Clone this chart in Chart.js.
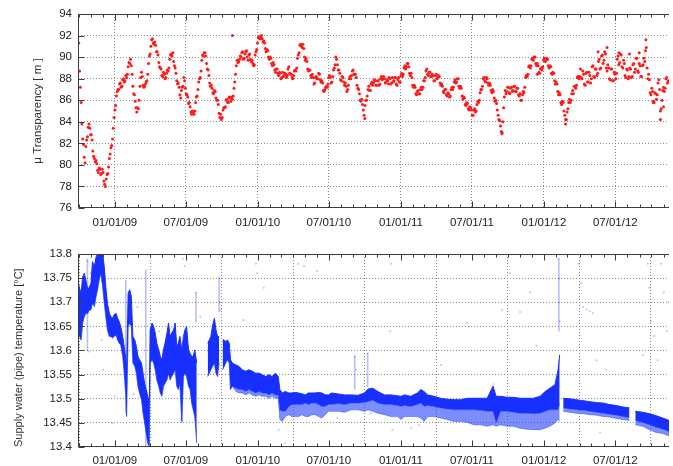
<!DOCTYPE html>
<html>
<head>
<meta charset="utf-8">
<script src="https://cdn.jsdelivr.net/npm/chart.js@4.4.1/dist/chart.umd.min.js"></script>
<style>
  html, body { margin: 0; padding: 0; background: #fff; }
  #wrap { position: relative; width: 673px; height: 466px; overflow: hidden; background: #fff; }
  .panel { position: absolute; left: 0; width: 673px; }
</style>
</head>
<body>
<div id="wrap">
  <div class="panel" style="top:0;height:232px"><canvas id="transChart"></canvas></div>
  <div class="panel" style="top:232px;height:234px"><canvas id="tempChart"></canvas></div>
</div>
<script>
(function () {
    'use strict';

    // ── DATA ───────────────────────────────────────────────────────────────
    // x values are days counted from 10/01/08
    const tickLabels = ['01/01/09', '07/01/09', '01/01/10', '07/01/10', '01/01/11', '07/01/11', '01/01/12', '07/01/12'];

    // µ transparency [m]: readings every 4 days from 10/01/08 (A) and from 10/03/08 (B)
    const TRANS_STEP = 4;
    const transparencyA = [
        91.3, 87.2, 83.8, 81.9, 80.2, 82.3, 83.5, 83.4, 82.8, 81.3,
        80.6, 80.4, 79.5, 79.7, 79.1, 79.6, 78.5, 78.0, 79.1, 79.8,
        81.0, 81.8, 83.4, 85.1, 86.4, 87.0, 87.5, 87.2, 87.9, 87.7,
        88.3, 88.4, 89.5, 89.8, 88.4, 86.6, 85.9, 84.9, 85.2, 87.3,
        88.6, 87.4, 87.3, 87.7, 88.4, 90.1, 91.0, 91.7, 91.2, 91.1,
        90.5, 89.5, 89.0, 88.3, 88.6, 88.0, 88.5, 88.7, 89.8, 90.3,
        90.4, 89.2, 88.5, 87.5, 87.2, 86.2, 87.2, 88.1, 87.1, 86.5,
        85.7, 85.4, 84.7, 84.9, 85.0, 86.3, 87.0, 88.0, 88.7, 90.2,
        90.4, 90.1, 88.9, 88.3, 87.3, 87.1, 86.6, 86.8, 86.0, 85.6,
        84.4, 84.2, 85.1, 85.3, 86.0, 85.8, 86.3, 85.9, 86.1, 87.1,
        88.4, 89.7, 89.6, 90.1, 90.4, 89.8, 90.3, 90.6, 89.7, 90.3,
        89.6, 89.4, 89.3, 90.5, 91.3, 91.9, 91.9, 91.7, 91.5, 90.8,
        90.7, 90.0, 90.0, 89.4, 89.5, 88.8, 88.9, 88.5, 88.6, 88.0,
        88.6, 88.3, 88.4, 88.3, 89.1, 88.4, 88.1, 88.3, 88.8, 89.0,
        90.2, 91.1, 91.0, 91.2, 90.0, 89.9, 88.9, 88.8, 88.3, 88.4,
        87.5, 88.1, 88.0, 88.5, 87.9, 87.8, 86.9, 87.0, 87.3, 87.5,
        88.3, 87.6, 88.2, 89.0, 90.0, 89.3, 88.8, 87.9, 88.2, 87.7,
        87.6, 86.8, 87.4, 88.2, 88.3, 88.8, 88.4, 88.1, 87.1, 86.6,
        85.9, 85.6, 84.6, 86.0, 86.4, 87.3, 86.9, 87.7, 87.6, 87.8,
        87.4, 87.8, 87.5, 88.2, 88.0, 88.0, 87.7, 87.8, 88.1, 87.5,
        88.1, 87.8, 88.1, 87.4, 88.1, 87.7, 88.5, 88.4, 89.2, 89.1,
        89.4, 88.5, 88.5, 87.4, 87.4, 86.6, 86.8, 86.6, 87.0, 87.0,
        87.8, 88.1, 88.9, 88.3, 88.6, 88.2, 88.3, 87.8, 88.4, 88.1,
        88.2, 87.4, 87.3, 86.7, 87.0, 86.4, 86.6, 86.4, 87.2, 87.2,
        87.9, 87.7, 88.0, 87.1, 87.1, 86.1, 86.2, 85.5, 85.7, 85.1,
        85.3, 84.6, 85.1, 84.9, 85.6, 85.8, 86.7, 87.0, 88.0, 87.8,
        88.1, 87.6, 87.6, 86.9, 87.0, 86.2, 86.0, 85.1, 84.2, 83.6,
        83.0, 85.3, 86.9, 86.8, 87.2, 86.6, 87.2, 86.9, 87.3, 86.8,
        87.1, 86.4, 86.0, 86.5, 86.7, 88.1, 88.2, 89.1, 89.0, 89.8,
        89.7, 90.0, 89.2, 89.2, 88.5, 89.0, 89.1, 89.9, 89.7, 89.8,
        89.0, 89.1, 88.4, 88.5, 87.5, 87.5, 86.5, 86.5, 85.6, 85.8,
        84.6, 84.2, 85.2, 86.1, 86.0, 86.9, 87.3, 87.1, 88.1, 88.0,
        88.9, 88.0, 88.4, 87.4, 88.6, 87.7, 88.3, 88.0, 89.2, 88.1,
        88.9, 88.5, 89.8, 89.0, 90.2, 89.7, 90.3, 88.7, 89.0, 87.9,
        88.9, 87.8, 88.4, 88.5, 90.1, 89.5, 90.2, 89.0, 89.4, 88.1,
        88.8, 88.2, 88.9, 88.2, 89.4, 88.9, 89.9, 88.6, 89.2, 88.2,
        89.3, 89.6, 90.9, 88.0, 87.9, 86.5, 86.8, 85.8, 86.6, 86.5,
        87.9, 85.0, 86.0, 87.2, 87.1, 88.1, 87.8
    ];
    const transparencyB = [
        88.7, 85.8, 82.4, 80.7, 81.7, 82.6, 83.8, 82.8, 82.3, 80.8,
        80.3, 80.1, 79.3, 79.6, 79.2, 79.3, 78.2, 78.7, 79.2, 80.6,
        81.6, 82.4, 84.4, 85.5, 86.8, 87.0, 87.6, 87.3, 88.0, 87.8,
        88.1, 89.1, 89.4, 89.2, 87.3, 86.5, 85.3, 85.3, 86.0, 88.1,
        88.2, 87.2, 87.5, 87.8, 89.4, 90.3, 91.6, 91.3, 91.4, 90.5,
        90.2, 89.1, 88.9, 88.2, 88.4, 88.1, 88.8, 89.0, 90.2, 90.1,
        89.6, 89.0, 87.8, 87.6, 86.5, 86.9, 87.3, 87.8, 86.6, 86.3,
        85.8, 84.9, 85.0, 84.7, 85.8, 86.4, 87.7, 88.1, 89.7, 90.1,
        90.4, 89.4, 88.8, 87.6, 87.4, 86.7, 86.9, 86.2, 86.0, 84.8,
        84.7, 84.4, 85.3, 85.4, 86.1, 85.8, 86.2, 86.3, 86.4, 87.7,
        89.2, 89.5, 89.8, 90.0, 90.5, 89.9, 90.5, 90.0, 90.2, 89.8,
        89.7, 89.2, 90.2, 90.7, 91.8, 91.7, 92.0, 91.4, 91.3, 90.5,
        90.6, 89.8, 89.9, 89.2, 89.3, 88.6, 88.9, 88.3, 88.5, 88.1,
        88.2, 88.5, 88.1, 88.9, 88.5, 88.4, 88.0, 88.7, 88.7, 89.9,
        90.4, 91.2, 90.9, 90.8, 89.7, 89.6, 88.7, 88.8, 88.1, 88.1,
        87.6, 88.2, 88.0, 88.4, 87.7, 87.6, 86.8, 87.2, 87.2, 88.1,
        88.1, 87.7, 88.8, 89.3, 89.8, 88.8, 88.5, 87.8, 88.1, 87.4,
        87.3, 87.0, 88.0, 88.0, 88.7, 88.4, 88.4, 87.4, 87.0, 86.0,
        86.1, 85.1, 85.5, 86.0, 87.0, 86.9, 87.5, 87.4, 87.9, 87.4,
        87.8, 87.4, 88.0, 87.9, 88.2, 87.6, 87.9, 87.5, 88.0, 87.6,
        87.7, 88.1, 87.5, 87.9, 87.7, 88.3, 88.2, 89.0, 88.9, 89.4,
        89.1, 88.3, 88.1, 87.2, 87.2, 86.5, 86.9, 86.6, 87.2, 87.2,
        87.8, 88.7, 88.4, 88.6, 88.2, 88.4, 87.8, 88.3, 88.0, 88.3,
        87.6, 87.5, 86.8, 87.0, 86.5, 86.7, 86.3, 87.0, 87.0, 87.7,
        87.6, 88.0, 87.3, 87.3, 86.4, 86.3, 85.6, 85.8, 85.2, 85.4,
        85.1, 84.6, 85.2, 85.0, 85.9, 86.0, 87.0, 87.3, 88.1, 87.7,
        88.0, 87.4, 87.4, 86.7, 86.8, 85.9, 85.7, 84.6, 84.1, 83.1,
        84.0, 86.3, 86.6, 87.2, 86.7, 87.1, 86.8, 87.3, 86.8, 87.1,
        86.5, 86.6, 86.0, 86.8, 87.2, 88.3, 88.4, 89.2, 89.2, 89.9,
        90.0, 89.4, 89.4, 88.6, 88.9, 88.8, 89.7, 89.6, 89.9, 89.2,
        89.2, 88.5, 88.6, 87.8, 87.7, 86.8, 86.7, 85.8, 85.9, 85.0,
        84.2, 84.9, 85.8, 85.8, 86.6, 86.6, 87.3, 87.4, 88.2, 88.2,
        88.1, 88.7, 87.5, 88.5, 87.7, 88.6, 87.6, 89.1, 88.2, 88.9,
        88.3, 89.6, 88.9, 90.1, 89.4, 90.5, 89.0, 89.3, 88.0, 88.9,
        87.8, 88.6, 88.0, 89.8, 89.3, 90.3, 89.1, 89.7, 88.3, 88.9,
        88.0, 89.0, 88.1, 89.3, 88.6, 89.9, 88.7, 89.4, 88.2, 89.2,
        89.9, 90.6, 89.0, 88.4, 86.7, 87.1, 85.9, 86.7, 86.1, 87.6,
        87.0, 85.2, 86.9, 86.8, 88.0, 87.6
    ];
    // isolated transparency readings
    const transExtraDay = [392, 1447, 1348, 1378, 1430, 1484, 1080, 1242, 1466, 1492, 730, 1170, 1325, 1405];
    const transExtraVal = [92.0, 91.6, 90.9, 90.4, 90.4, 84.2, 82.9, 83.8, 85.8, 85.4, 84.3, 88.4, 90.5, 90.3];

    // supply water temperature [°C]: dense band (upper / lower edge) and its lighter lower fringe
    const tempDay = [
        -3, 2, 6, 10, 14, 18, 23, 27, 31, 35, 40, 44, 48, 52, 56, 61, 65, 69, 73, 78,
        82, 86, 90, 95, 99, 103, 107, 112, 116, 120, 122, 126, 130, 134, 138, 143, 147, 151, 155, 160,
        164, 168, 172, 176, 180, 182, 187, 191, 195, 199, 204, 208, 212, 216, 220, 225, 229, 233, 237, 242,
        246, 250, 254, 258, 263, 267, 271, 275, 280, 284, 288, 292, 296, 301, 304, 329, 333, 337, 341, 346,
        350, 354, 358, 363, 367, 371, 375, 379, 384, 387, 392, 401, 409, 417, 426, 434, 443, 451, 460, 468,
        477, 485, 493, 502, 509, 513, 519, 527, 536, 544, 553, 561, 570, 578, 586, 595, 603, 612, 620, 629,
        637, 645, 662, 678, 695, 712, 729, 738, 750, 763, 780, 797, 814, 822, 831, 847, 864, 873, 881, 890,
        907, 923, 940, 957, 974, 991, 1008, 1025, 1042, 1057, 1065, 1076, 1093, 1109, 1126, 1143, 1160, 1177, 1190, 1202,
        1215, 1223, 1227, 1230, 1236, 1253, 1270, 1287, 1304, 1321, 1338, 1354, 1372, 1388, 1405, 1412, 1420, 1439, 1456, 1473,
        1490, 1506
    ];
    const tempHigh = [
        13.746, 13.729, 13.719, 13.753, 13.760, 13.746, 13.726, 13.732, 13.739, 13.784,
        13.774, 13.794, 13.800, 13.800, 13.800, 13.800, 13.774, 13.732, 13.698, 13.677,
        13.670, 13.667, 13.674, 13.677, 13.667, 13.660, 13.650, 13.629, 13.608, 13.581,
        13.560, 13.719, 13.726, 13.712, 13.629, 13.622, 13.608, 13.588, 13.581, 13.574,
        13.553, 13.532, 13.519, 13.505, 13.491, 13.643, 13.657, 13.650, 13.636, 13.615,
        13.601, 13.588, 13.581, 13.601, 13.615, 13.636, 13.657, 13.629, 13.636, 13.643,
        13.657, 13.608, 13.615, 13.629, 13.601, 13.629, 13.643, 13.650, 13.601, 13.594,
        13.588, 13.588, 13.601, 13.574, null, 13.615, 13.622, 13.629, 13.650, 13.667,
        13.643, 13.629, 13.629, null, 13.622, 13.622, 13.618, 13.622, 13.615, 13.581,
        13.574, 13.570, 13.567, 13.560, 13.557, 13.560, 13.557, 13.553, 13.553, 13.550,
        13.546, 13.550, 13.546, 13.553, 13.546, 13.519, 13.512, 13.515, 13.512, 13.512,
        13.513, 13.512, 13.510, 13.508, 13.512, 13.512, 13.512, 13.513, 13.512, 13.508,
        13.508, 13.512, 13.510, 13.508, 13.508, 13.507, 13.512, 13.520, 13.522, 13.515,
        13.508, 13.508, 13.506, 13.505, 13.508, 13.505, 13.512, 13.519, 13.515, 13.508,
        13.505, 13.501, 13.499, 13.498, 13.498, 13.501, 13.501, 13.501, 13.501, 13.526,
        13.505, 13.505, 13.503, 13.503, 13.501, 13.501, 13.501, 13.505, 13.515, 13.522,
        13.529, 13.560, 13.591, null, 13.501, 13.500, 13.498, 13.496, 13.494, 13.492,
        13.491, 13.488, 13.486, 13.483, 13.481, null, 13.474, 13.472, 13.469, 13.465,
        13.460, 13.455
    ];
    const tempLow = [
        13.636, 13.629, 13.622, 13.657, 13.670, 13.677, 13.677, 13.684, 13.684, 13.698,
        13.691, 13.712, 13.726, 13.746, 13.760, 13.732, 13.698, 13.670, 13.643, 13.629,
        13.629, 13.626, 13.629, 13.632, 13.622, 13.615, 13.612, 13.588, 13.553, 13.505,
        13.463, 13.650, 13.657, 13.650, 13.574, 13.567, 13.553, 13.526, 13.512, 13.498,
        13.470, 13.450, 13.429, 13.408, 13.401, 13.574, 13.581, 13.574, 13.560, 13.539,
        13.526, 13.512, 13.505, 13.526, 13.532, 13.539, 13.553, 13.539, 13.546, 13.553,
        13.560, 13.526, 13.519, 13.532, 13.453, 13.546, 13.553, 13.546, 13.526, 13.519,
        13.491, 13.477, 13.463, 13.408, null, 13.546, 13.553, 13.560, 13.567, 13.574,
        13.553, 13.546, 13.574, null, 13.560, 13.567, 13.574, 13.581, 13.574, 13.519,
        13.526, 13.522, 13.519, 13.519, 13.515, 13.519, 13.515, 13.512, 13.515, 13.512,
        13.512, 13.508, 13.512, 13.508, 13.508, 13.477, 13.474, 13.474, 13.484, 13.488,
        13.488, 13.488, 13.488, 13.491, 13.488, 13.491, 13.491, 13.488, 13.484, 13.484,
        13.488, 13.488, 13.490, 13.488, 13.491, 13.491, 13.492, 13.494, 13.497, 13.491,
        13.488, 13.488, 13.486, 13.484, 13.486, 13.484, 13.488, 13.491, 13.484, 13.486,
        13.484, 13.481, 13.479, 13.477, 13.477, 13.477, 13.477, 13.476, 13.474, 13.474,
        13.450, 13.474, 13.474, 13.472, 13.470, 13.470, 13.469, 13.470, 13.474, 13.477,
        13.477, 13.477, 13.491, null, 13.481, 13.479, 13.477, 13.476, 13.474, 13.472,
        13.470, 13.468, 13.466, 13.463, 13.461, null, 13.455, 13.451, 13.446, 13.441,
        13.437, 13.432
    ];
    const tempFringe = [
        13.636, 13.629, 13.622, 13.657, 13.670, 13.677, 13.677, 13.684, 13.684, 13.698,
        13.691, 13.712, 13.726, 13.746, 13.760, 13.732, 13.698, 13.670, 13.643, 13.629,
        13.629, 13.626, 13.629, 13.632, 13.622, 13.615, 13.612, 13.588, 13.553, 13.505,
        13.463, 13.650, 13.657, 13.650, 13.574, 13.567, 13.553, 13.526, 13.512, 13.498,
        13.470, 13.450, 13.429, 13.408, 13.401, 13.574, 13.581, 13.574, 13.560, 13.539,
        13.526, 13.512, 13.505, 13.526, 13.532, 13.539, 13.553, 13.539, 13.546, 13.553,
        13.560, 13.526, 13.519, 13.532, 13.453, 13.546, 13.553, 13.546, 13.526, 13.519,
        13.491, 13.477, 13.463, 13.408, null, 13.546, 13.553, 13.560, 13.567, 13.574,
        13.553, 13.546, 13.574, null, 13.560, 13.567, 13.574, 13.581, 13.574, 13.519,
        13.526, 13.515, 13.512, 13.512, 13.508, 13.512, 13.508, 13.505, 13.508, 13.505,
        13.505, 13.501, 13.505, 13.501, 13.501, 13.457, 13.453, 13.463, 13.467, 13.463,
        13.463, 13.463, 13.467, 13.463, 13.463, 13.467, 13.467, 13.463, 13.460, 13.467,
        13.474, 13.474, 13.474, 13.472, 13.477, 13.477, 13.474, 13.477, 13.474, 13.470,
        13.467, 13.463, 13.463, 13.457, 13.463, 13.463, 13.463, 13.460, 13.453, 13.463,
        13.463, 13.460, 13.457, 13.453, 13.453, 13.451, 13.446, 13.446, 13.443, 13.446,
        13.443, 13.446, 13.443, 13.443, 13.439, 13.437, 13.436, 13.436, 13.439, 13.443,
        13.450, 13.457, 13.453, null, 13.474, 13.472, 13.470, 13.469, 13.467, 13.466,
        13.463, 13.462, 13.459, 13.457, 13.455, null, 13.446, 13.443, 13.436, 13.430,
        13.428, 13.423
    ];

    // short vertical streaks of temperature readings
    const spikeDay  = [120, 171, 358, 299, 704, 737, 1225, 22, 262];
    const spikeHigh = [13.746, 13.767, 13.750, 13.720, 13.588, 13.594, 13.790, 13.790, 13.530];
    const spikeLow  = [13.470, 13.401, 13.680, 13.660, 13.520, 13.525, 13.640, 13.600, 13.450];

    // scattered single temperature readings
    const strayDay = [
        22, 25, 30, 58, 62, 86, 92, 100, 140, 150, 205, 240, 265, 270, 300, 310, 320, 358, 360, 362,
        420, 452, 455, 472, 510, 526, 560, 575, 608, 660, 704, 708, 737, 745, 788, 797, 795, 800, 848, 868,
        924, 991, 995, 1058, 1080, 1100, 1126, 1152, 1168, 1224, 1226, 1225, 1227, 1275, 1282, 1287, 1296, 1304, 1312, 1321,
        1345, 1452, 1456, 1460, 1468, 1477, 1486, 1493, 1500, 1505, 1330, 1440
    ];
    const strayTemp = [
        13.785, 13.598, 13.760, 13.622, 13.560, 13.450, 13.505, 13.700, 13.510, 13.690, 13.640, 13.700, 13.790, 13.775, 13.720, 13.670, 13.655, 13.750, 13.700, 13.684,
        13.663, 13.780, 13.760, 13.730, 13.436, 13.408, 13.780, 13.775, 13.765, 13.460, 13.588, 13.560, 13.594, 13.470, 13.800, 13.780, 13.640, 13.435, 13.440, 13.445,
        13.570, 13.657, 13.650, 13.530, 13.684, 13.760, 13.680, 13.720, 13.610, 13.790, 13.750, 13.700, 13.660, 13.780, 13.740, 13.690, 13.685, 13.681, 13.677, 13.580,
        13.560, 13.780, 13.730, 13.660, 13.630, 13.580, 13.780, 13.720, 13.640, 13.700, 13.430, 13.590
    ];

    // ── LAYOUT / STYLE ─────────────────────────────────────────────────────
    const X_MIN = -2;
    const X_MAX = 1506;
    const RED    = '#ff1a1a';
    const BLUE   = 'rgb(24,48,255)';
    const BLUE_L = 'rgba(30,60,255,0.58)';
    const SPIKE  = 'rgba(40,60,255,0.32)';
    const STRAY  = 'rgba(60,80,255,0.35)';
    const GRID   = '#8a8a8a';
    const AXIS   = '#3c3c3c';
    const TEXT   = '#222';

    Chart.defaults.font.family = '"Liberation Sans", Arial, sans-serif';
    Chart.defaults.font.size = 11.5;
    Chart.defaults.color = TEXT;

    const START = Date.UTC(2008, 9, 1);
    const DAY = 86400000;
    const dayOf = (y, m, d) => (Date.UTC(y, m - 1, d) - START) / DAY;
    const tickDays = tickLabels.map(s => {
        const [m, d, y] = s.split('/').map(Number);
        return dayOf(2000 + y, m, d);
    });
    const monthDays = [];
    for (let y = 2008; y <= 2012; y++) {
        for (let m = 1; m <= 12; m++) monthDays.push(dayOf(y, m, 1));
    }

    // frame (left/top/bottom) and inward tick marks, as drawn by gnuplot
    const framePlugin = {
        id: 'frame',
        afterDatasetsDraw(chart) {
            const { ctx, chartArea: a, scales: { x, y } } = chart;
            const L = a.left + 0.5, T = a.top + 0.5, B = a.bottom - 0.5;
            ctx.save();
            ctx.strokeStyle = AXIS;
            ctx.lineWidth = 1;
            ctx.beginPath();
            ctx.moveTo(a.right, T); ctx.lineTo(L, T); ctx.lineTo(L, B); ctx.lineTo(a.right, B);
            monthDays.forEach(d => {
                const px = Math.round(x.getPixelForValue(d)) + 0.5;
                if (px <= a.left + 1 || px > a.right) return;
                const len = tickDays.includes(d) ? 6 : 3;
                ctx.moveTo(px, T); ctx.lineTo(px, T + len);
                ctx.moveTo(px, B); ctx.lineTo(px, B - len);
            });
            y.ticks.forEach(t => {
                const py = Math.round(y.getPixelForValue(t.value)) + 0.5;
                ctx.moveTo(L, py); ctx.lineTo(L + 6, py);
            });
            ctx.stroke();
            ctx.restore();
        }
    };

    function xAxis(height, pad) {
        return {
            type: 'linear',
            min: X_MIN,
            max: X_MAX,
            offset: false,
            afterBuildTicks: s => { s.ticks = tickDays.map(v => ({ value: v })); },
            afterFit: s => { s.height = height; },
            ticks: { autoSkip: false, maxRotation: 0, padding: pad, callback: (v, i) => tickLabels[i] },
            grid: { color: GRID, drawTicks: false, lineWidth: 1 },
            border: { display: false, dash: [1, 2] }
        };
    }

    function yAxis(min, max, step, title, fmt) {
        return {
            min, max,
            afterFit: s => { s.width = 78; },
            ticks: { stepSize: step, padding: 6, callback: fmt },
            grid: {
                drawTicks: false,
                lineWidth: 1,
                color: c => (c.tick && (Math.abs(c.tick.value - min) < 1e-6 || Math.abs(c.tick.value - max) < 1e-6)) ? 'rgba(0,0,0,0)' : GRID
            },
            border: { display: false, dash: [1, 2] },
            title: Object.assign({ display: true, color: '#333' }, title)
        };
    }

    const common = {
        responsive: true,
        maintainAspectRatio: false,
        animation: false,
        devicePixelRatio: 1,
        events: [],
        plugins: { legend: { display: false }, tooltip: { enabled: false } }
    };

    // ── TRANSPARENCY (TOP) ─────────────────────────────────────────────────
    const redPoints = data => ({ data, pointRadius: 1.5, pointBackgroundColor: RED, pointBorderWidth: 0 });

    new Chart(document.getElementById('transChart'), {
        type: 'scatter',
        data: {
            datasets: [
                redPoints(transparencyA.map((v, i) => ({ x: i * TRANS_STEP, y: v }))),
                redPoints(transparencyB.map((v, i) => ({ x: i * TRANS_STEP + 2, y: v }))),
                redPoints(transExtraDay.map((d, i) => ({ x: d, y: transExtraVal[i] })))
            ]
        },
        options: Object.assign({}, common, {
            layout: { padding: { top: 14, left: 0, right: 0, bottom: 0 } },
            scales: {
                x: xAxis(24, 8),
                y: yAxis(76, 94, 2, { text: 'μ Transparency [ m ]', padding: { top: 31, bottom: 0 } }, v => v)
            }
        }),
        plugins: [framePlugin]
    });

    // ── SUPPLY WATER TEMPERATURE (BOTTOM) ──────────────────────────────────
    const pts = arr => tempDay.map((d, i) => ({ x: d, y: arr[i] }));

    new Chart(document.getElementById('tempChart'), {
        type: 'line',
        data: {
            datasets: [{
                data: pts(tempHigh),
                borderColor: BLUE,
                backgroundColor: BLUE,
                borderWidth: 1,
                pointRadius: 0,
                tension: 0,
                spanGaps: false,
                fill: '+1'
            }, {
                data: pts(tempLow),
                borderColor: BLUE_L,
                backgroundColor: BLUE_L,
                borderWidth: 0.8,
                pointRadius: 0,
                tension: 0,
                spanGaps: false,
                fill: '+1'
            }, {
                data: pts(tempFringe),
                borderColor: BLUE_L,
                borderWidth: 0.8,
                pointRadius: 0,
                tension: 0,
                spanGaps: false,
                fill: false
            }, {
                type: 'bar',
                data: spikeDay.map((d, i) => ({ x: d, y: [spikeLow[i], spikeHigh[i]] })),
                backgroundColor: SPIKE,
                barThickness: 1
            }, {
                type: 'scatter',
                data: strayDay.map((d, i) => ({ x: d, y: strayTemp[i] })),
                pointRadius: 1,
                pointBackgroundColor: STRAY,
                pointBorderWidth: 0
            }]
        },
        options: Object.assign({}, common, {
            layout: { padding: { top: 22, left: 0, right: 0, bottom: 0 } },
            scales: {
                x: xAxis(19, 7),
                y: yAxis(13.4, 13.8, 0.05, {
                    text: 'Supply water (pipe) temperature [°C]',
                    align: 'start',
                    font: { size: 11 },
                    padding: { top: 12, bottom: 0 }
                }, v => String(parseFloat(v.toFixed(2))))
            }
        }),
        plugins: [framePlugin]
    });

})();
</script>
</body>
</html>
